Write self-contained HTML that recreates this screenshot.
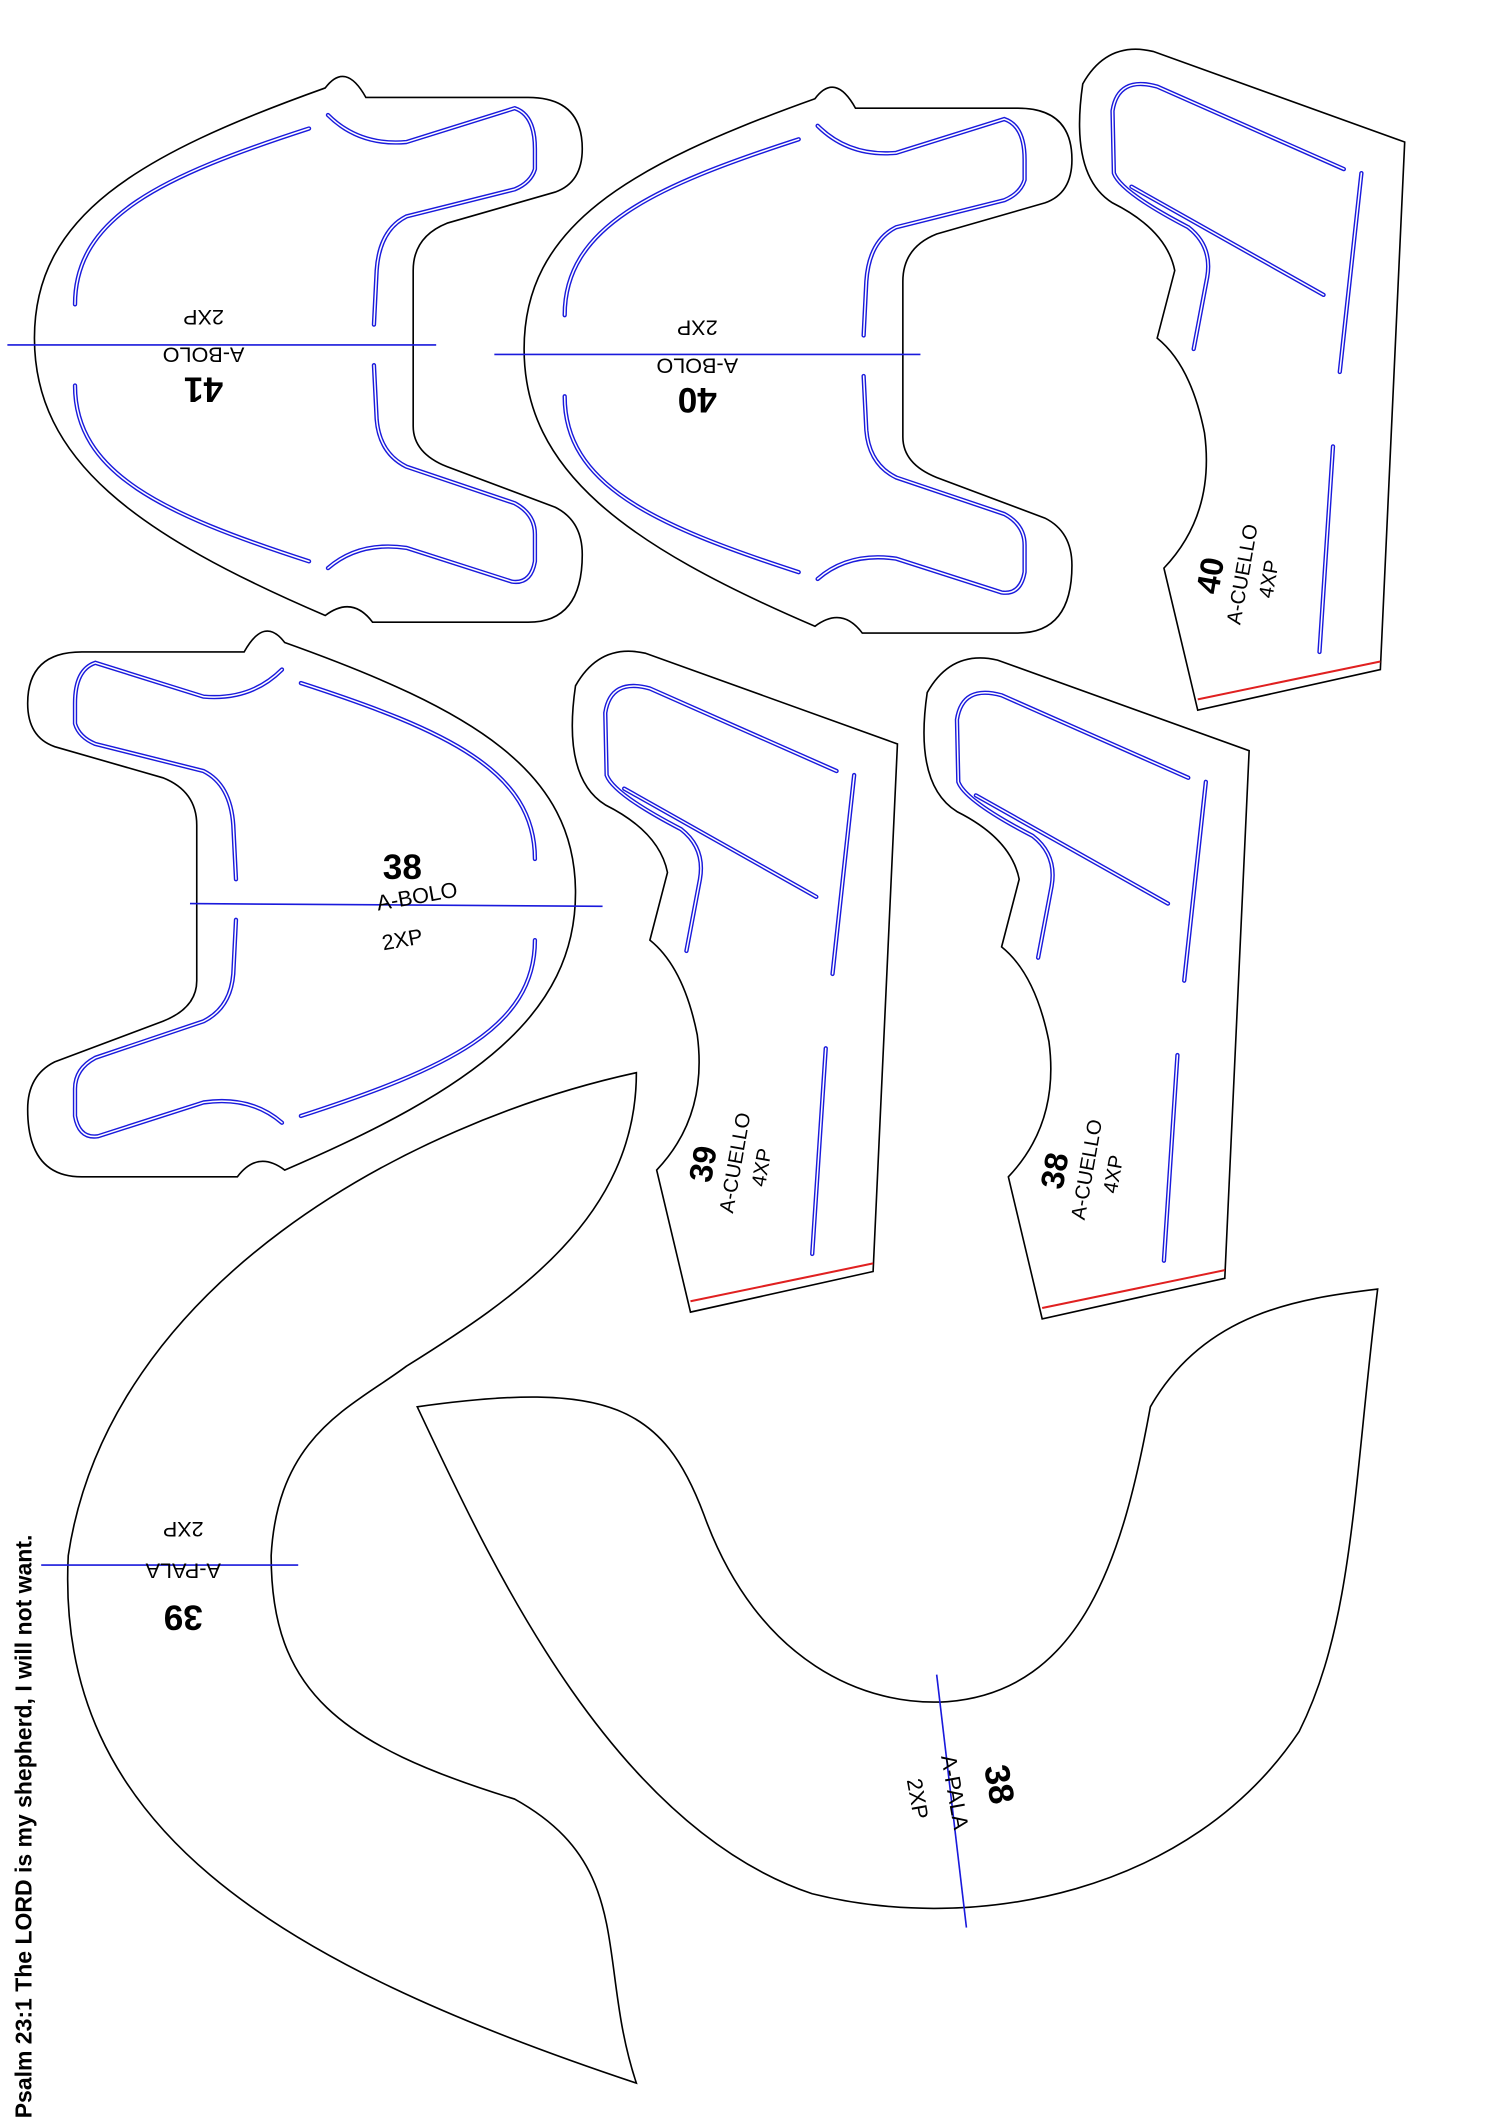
<!DOCTYPE html>
<html><head><meta charset="utf-8"><style>
html,body{margin:0;padding:0;background:#fff;}
svg{display:block}
text{font-family:"Liberation Sans",sans-serif;fill:#000}
.o{fill:none;stroke:#000;stroke-width:1.2}
.l{stroke:#1a1adc;stroke-width:1.2}
</style></head><body>
<svg width="1500" height="2121" viewBox="0 0 1108 1568" xmlns="http://www.w3.org/2000/svg">
<defs>
<g id="bl" fill="none" stroke-linecap="round">
<path d="M55,225 C55,160 120,130 228,95"/>
<path d="M55,285 C55,350 120,380 228,415"/>
<path d="M242,85 Q265,108 300,105 L380,80 Q395,85 395,110 L395,125 Q392,135 380,140 L300,160 Q280,170 278,200 L276,240"/>
<path d="M276,270 L278,310 Q280,335 300,345 L380,372 Q395,380 395,395 L395,415 Q392,432 378,430 L300,405 Q265,400 242,420"/>
</g>
<g id="bolo">
<path fill="none" stroke="#000" stroke-width="1.2" d="M240,65 Q255,45 270,72 L390,72 Q430,72 430,110 Q430,135 410,142 L330,165 Q305,175 305,200 L305,315 Q305,335 330,345 L410,375 Q430,385 430,410 Q430,460 390,460 L275,460 Q260,440 240,455 C100,395 25,340 25,250 C25,160 100,115 240,65Z"/>
<use href="#bl" stroke="#1a1adc" stroke-width="3.2"/>
<use href="#bl" stroke="#fff" stroke-width="1.1"/>
</g>
<g id="cl" fill="none" stroke-linecap="round">
<path d="M993,125 L855,64 Q826,56 822,82 L823,128 Q828,142 878,168 Q896,182 892,205 L882,258"/>
<path d="M836,138 L978,218"/>
<path d="M1006,128 L990,275"/>
<path d="M985,330 L975,482"/>
</g>
<g id="cuello">
<path fill="none" stroke="#000" stroke-width="1.2" d="M800,62 Q818,30 852,38 L1038,105 L1020,495 L885,525 Q872,470 860,420 Q898,380 890,320 Q880,270 855,250 L868,200 Q862,170 822,150 Q790,130 800,62Z"/>
<line stroke="#e02020" stroke-width="1.5" x1="885" y1="517" x2="1020" y2="489"/>
<use href="#cl" stroke="#1a1adc" stroke-width="3.2"/>
<use href="#cl" stroke="#fff" stroke-width="1.1"/>
</g>
</defs>

<use href="#bolo"/>
<line class="l" x1="5" y1="255" x2="322" y2="255"/>
<g transform="rotate(180 150 260)">
<text x="150" y="241" font-size="26" font-weight="bold" text-anchor="middle">41</text>
<text x="150" y="263" font-size="16" text-anchor="middle">A-BOLO</text>
<text x="150" y="291" font-size="16" text-anchor="middle">2XP</text>
</g>

<g transform="translate(362,8)"><use href="#bolo"/></g>
<line class="l" x1="365" y1="262" x2="680" y2="262"/>
<g transform="rotate(180 515 268)">
<text x="515" y="249" font-size="26" font-weight="bold" text-anchor="middle">40</text>
<text x="515" y="271" font-size="16" text-anchor="middle">A-BOLO</text>
<text x="515" y="299" font-size="16" text-anchor="middle">2XP</text>
</g>

<g transform="translate(450,410) scale(-1,1)"><use href="#bolo"/></g>
<line class="l" x1="140" y1="668" x2="445" y2="670"/>
<text x="297" y="650" font-size="26" font-weight="bold" text-anchor="middle">38</text>
<text x="308" y="668" font-size="16" text-anchor="middle" transform="rotate(-10 308 664)">A-BOLO</text>
<text x="297" y="700" font-size="16" text-anchor="middle" transform="rotate(-10 297 695)">2XP</text>

<use href="#cuello"/>
<g transform="rotate(-80 920 430)">
<text x="920" y="412" font-size="24" font-weight="bold" text-anchor="middle">40</text>
<text x="925" y="432" font-size="15" text-anchor="middle">A-CUELLO</text>
<text x="925" y="452" font-size="15" text-anchor="middle">4XP</text>
</g>

<g transform="translate(-375,445)"><use href="#cuello"/></g>
<g transform="rotate(-80 545 865)">
<text x="545" y="847" font-size="24" font-weight="bold" text-anchor="middle">39</text>
<text x="550" y="867" font-size="15" text-anchor="middle">A-CUELLO</text>
<text x="550" y="887" font-size="15" text-anchor="middle">4XP</text>
</g>

<g transform="translate(-115,450)"><use href="#cuello"/></g>
<g transform="rotate(-80 805 870)">
<text x="805" y="852" font-size="24" font-weight="bold" text-anchor="middle">38</text>
<text x="810" y="872" font-size="15" text-anchor="middle">A-CUELLO</text>
<text x="810" y="892" font-size="15" text-anchor="middle">4XP</text>
</g>

<path class="o" d="M470,793 C300,830 80,950 50,1150 C40,1350 200,1450 470,1540 C440,1450 470,1380 380,1330 C250,1290 200,1250 200,1150 C205,1060 260,1040 300,1010 C380,960 470,900 470,793Z"/>
<line class="l" x1="30" y1="1157" x2="220" y2="1157"/>
<g transform="rotate(180 135 1160)">
<text x="135" y="1133" font-size="26" font-weight="bold" text-anchor="middle">39</text>
<text x="135" y="1164" font-size="16" text-anchor="middle">A-PALA</text>
<text x="135" y="1195" font-size="16" text-anchor="middle">2XP</text>
</g>

<path class="o" d="M308,1040 C450,1020 490,1040 520,1120 C560,1230 640,1262 700,1258 C800,1250 830,1150 850,1040 C890,970 960,960 1018,953 C1000,1100 1000,1200 960,1280 C880,1400 720,1430 600,1400 C450,1350 360,1150 308,1040Z"/>
<line class="l" x1="692" y1="1238" x2="714" y2="1425"/>
<g transform="rotate(80 705 1325)">
<text x="705" y="1300" font-size="26" font-weight="bold" text-anchor="middle">38</text>
<text x="705" y="1330" font-size="16" text-anchor="middle">A-PALA</text>
<text x="705" y="1358" font-size="16" text-anchor="middle">2XP</text>
</g>

<text x="0" y="0" font-size="17" font-weight="bold" transform="translate(23,1566) rotate(-90)">Psalm 23:1 The LORD is my shepherd, I will not want.</text>
</svg>
</body></html>
